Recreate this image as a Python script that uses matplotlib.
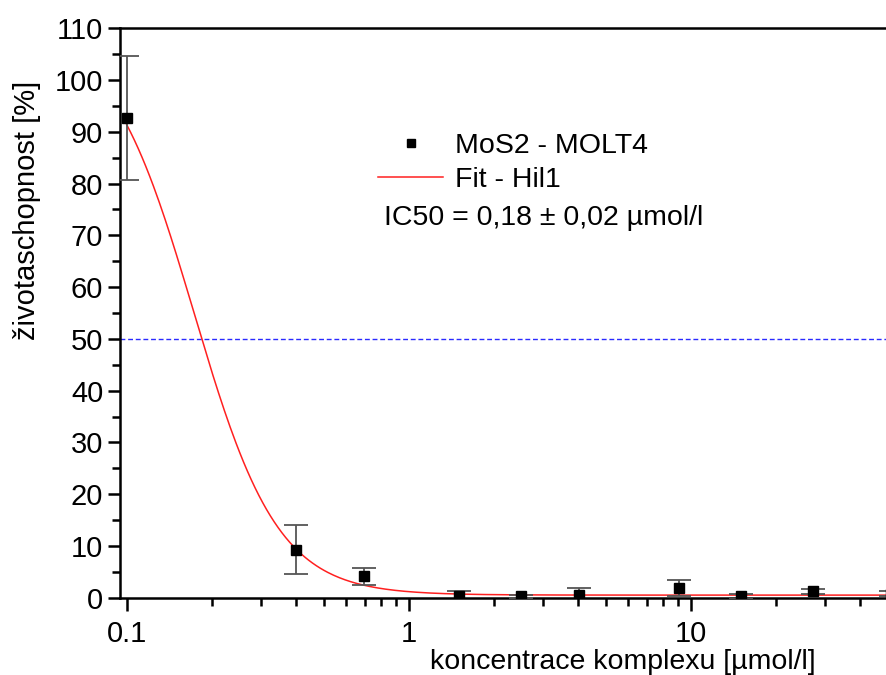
import numpy as np
import matplotlib
matplotlib.use("Agg")
import matplotlib.pyplot as plt
from matplotlib.lines import Line2D
from matplotlib.ticker import LogLocator, NullFormatter, FixedLocator, MultipleLocator

plt.rcParams['font.family'] = ['Liberation Sans', 'DejaVu Sans']

conc = [0.1, 0.398, 0.697, 1.51, 2.5, 4.02, 9.06, 15.1, 27.2, 51.5]
viab = [92.7, 9.3, 4.1, 0.4, 0.3, 0.5, 1.9, 0.3, 1.2, 0.8]
err = [12.0, 4.8, 1.6, 0.8, 0.3, 1.4, 1.5, 0.5, 0.4, 0.4]

# Hill1 fit parameters
fit_start = 110.0
fit_end = 0.5
fit_k = 0.1728
fit_n = 2.9

xfit = np.logspace(np.log10(conc[0]), np.log10(conc[-1]), 400)
yfit = fit_end + (fit_start - fit_end) / (1 + (xfit / fit_k) ** fit_n)

fig = plt.figure(figsize=(8.86, 6.75), dpi=100)
ax = fig.add_axes([120 / 886, 1 - 597.7 / 675, 1 - 120 / 886, (597.7 - 28.3) / 675])

ax.axhline(50, color="#2a2aff", lw=1.0, ls=(0, (3.5, 2)), zorder=1)
ax.plot(xfit, yfit, color="#ff2020", lw=1.1, zorder=2)
ax.errorbar(conc, viab, yerr=err, fmt="s", color="black", ms=6.5,
            ecolor="#555555", elinewidth=1.3, capsize=8.5, capthick=1.3,
            zorder=3)

ax.set_xscale("log")
ax.set_xlim(0.0947, 49.3)
ax.set_ylim(0, 110)

ax.xaxis.set_major_locator(FixedLocator([0.1, 1, 10]))
ax.xaxis.set_major_formatter(plt.FuncFormatter(lambda v, p: "%g" % v))
ax.xaxis.set_minor_locator(LogLocator(base=10, subs=np.arange(2, 10)))
ax.xaxis.set_minor_formatter(NullFormatter())
ax.yaxis.set_major_locator(MultipleLocator(10))
ax.yaxis.set_minor_locator(MultipleLocator(5))

ax.spines["right"].set_visible(False)
for s in ["left", "bottom", "top"]:
    ax.spines[s].set_linewidth(1.8)
ax.tick_params(which="major", direction="out", length=9, width=1.8, labelsize=21)
ax.tick_params(which="minor", direction="out", length=5.5, width=1.8)
ax.tick_params(axis="x", which="both", top=False, pad=7)
ax.tick_params(axis="y", which="both", right=False, pad=3)

handles = [Line2D([], [], ls="none", marker="s", color="black", ms=6),
           Line2D([], [], color="#ff2020", lw=1.1)]
labels = ["MoS2 - MOLT4", "Fit - Hil1"]
ax.legend(handles, labels, loc="upper left", bbox_to_anchor=(0.318, 0.842), frameon=False,
          fontsize=20.5, handlelength=2.3, handletextpad=0.4, borderpad=0, labelspacing=0.3)

fig.text(384 / 886, 1 - 218 / 675, "IC50 = 0,18 \u00b1 0,02 \u00b5mol/l", fontsize=20.5,
         ha="left", va="center")
fig.text(623 / 886, 1 - 662 / 675, "koncentrace komplexu [\u00b5mol/l]", fontsize=20.5,
         ha="center", va="center")
fig.text(27 / 886, 1 - 210 / 675, "\u017eivotaschopnost [%]", fontsize=21,
         ha="center", va="center", rotation=90)

fig.savefig("out.png", dpi=100)
